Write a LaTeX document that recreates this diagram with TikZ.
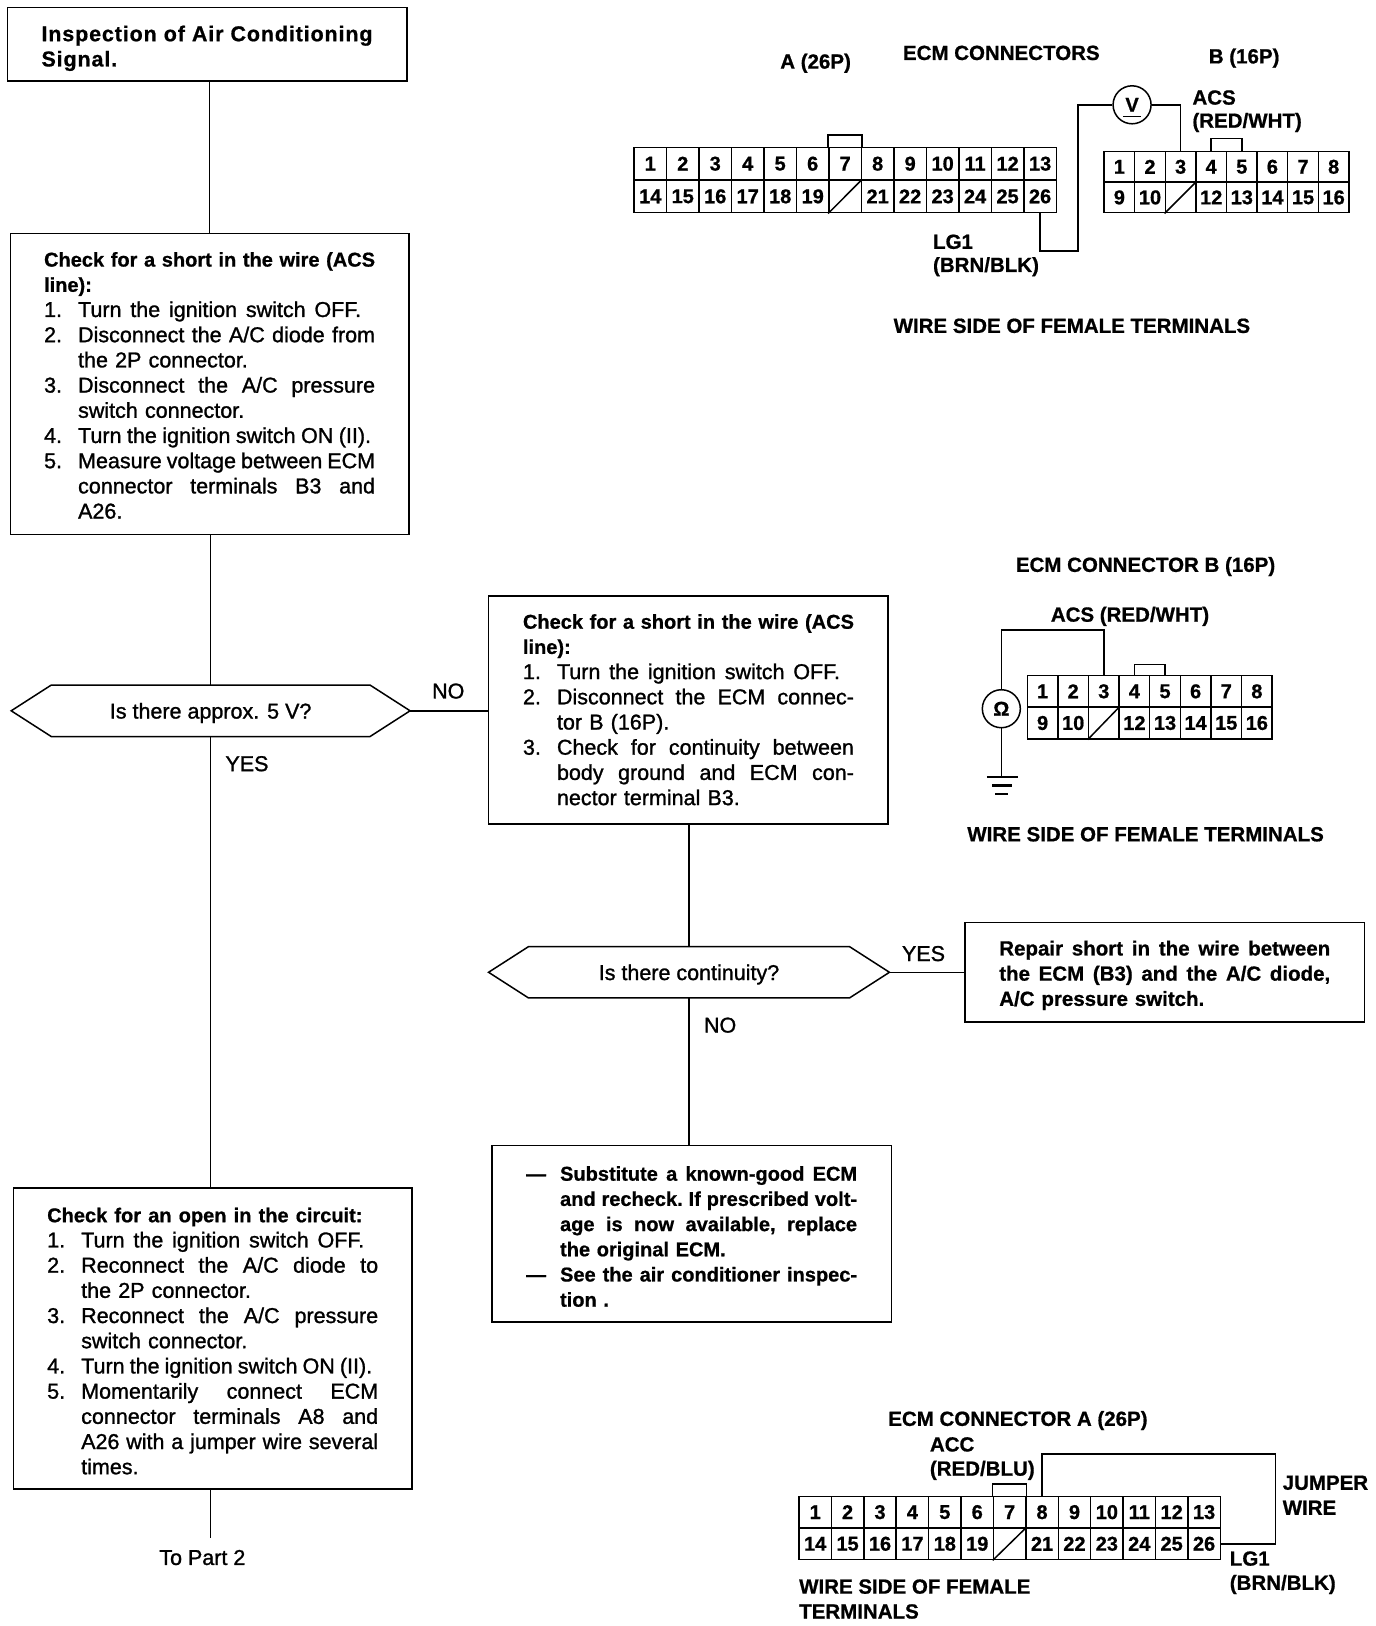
\documentclass[tikz,border=0pt]{standalone}
\usepackage{fontspec}
\setmainfont{Liberation Sans}
\newfontfamily\medfont[FakeBold=1.2]{Liberation Sans}
\newfontfamily\boldfont{Liberation Sans Bold}[FakeBold=0.8]
\newcommand{\bodysize}{\fontsize{21.5}{25.2}\selectfont}
\newcommand{\headfont}{\boldfont\fontsize{20}{25.2}\selectfont}
\newcommand{\strongfont}{\boldfont\fontsize{20}{25.2}\selectfont}
\newcommand{\fitline}[2]{\leavevmode\hbox to #1{\frenchspacing #2\hss}}
\newcommand{\jfit}[2]{\leavevmode\hbox to #1{\frenchspacing\spaceskip=.27em plus 1fil minus .14em\relax #2}}
\newcommand{\jl}[1]{\jfit{331pt}{#1}}
\newcommand{\nl}[2]{\leavevmode\hbox{\makebox[34pt][l]{#1}\fitline{297pt}{#2}}}
\newcommand{\nj}[2]{\leavevmode\hbox{\makebox[34pt][l]{#1}\jfit{297pt}{#2}}}
\newcommand{\nw}[3]{\leavevmode\hbox{\makebox[34pt][l]{#1}\jfit{#2}{#3}}}
\newcommand{\dn}[1]{\leavevmode\rule{0pt}{#1}}
\tikzset{
  flowbox/.style={draw,line width=1.5pt,inner sep=0pt,text width=331pt,align=left,font=\medfont\bodysize,anchor=center},
  hexbox/.style={inner sep=0pt,font=\medfont\bodysize,anchor=center,text height=15.5pt,text depth=0pt},
  wire/.style={line width=1.5pt},
  cellbox/.style={draw,line width=1.5pt,inner sep=0pt,font=\boldfont\fontsize{20}{20}\selectfont},
  lab/.style={inner sep=0pt,font=\boldfont\fontsize{20.5}{24}\selectfont},
  plain/.style={inner sep=0pt,font=\medfont\bodysize},
  meter/.style={draw,circle,line width=1.5pt,inner sep=0pt,minimum size=38pt,font=\boldfont\fontsize{20}{20}\selectfont}
}
\newcommand{\connector}[7]{%
  \pgfmathsetmacro\cw{#4/#6*1.0377}%
  \pgfmathsetmacro\ch{#5/2*1.0377}%
  \pgfmathtruncatemacro\tot{2*#6}%
  \foreach \k in {1,...,\tot}{%
    \pgfmathtruncatemacro\cc{mod(\k-1,#6)}%
    \pgfmathtruncatemacro\rr{int((\k-1)/#6)}%
    \node[cellbox,minimum width=\cw pt,minimum height=\ch pt] (#1\k) at ({#2+(\cc+.5)*#4/#6},{#3+(\rr+.5)*#5/2}) {\ifnum\k=#7\else\k\fi};
  }%
  \draw[wire] (#1#7.south west) -- (#1#7.north east);
}
\begin{document}
\begin{tikzpicture}[x=1.0377pt,y=-1.0377pt]
\useasboundingbox (0,0) rectangle (1326,1567);
% flow boxes
\node[flowbox,minimum width=399.5pt,minimum height=73.7pt] (b1) at (199.5,42.5) {\boldfont\addfontfeature{LetterSpace=4}\dn{24pt}\jl{Inspection of Air Conditioning}\\Signal.};
\node[flowbox,minimum width=398.5pt,minimum height=301pt] (b2) at (202,370) {{\headfont\dn{17.5pt}\jl{Check for a short in the wire (ACS}\\line):}\\
\nw{1.}{283pt}{Turn the ignition switch OFF.}\\
\nj{2.}{Disconnect the A/C diode from}\\
\nl{}{the 2P connector.}\\
\nj{3.}{Disconnect the A/C pressure}\\
\nl{}{switch connector.}\\
\nw{4.}{293pt}{Turn the ignition switch ON (II).}\\
\nj{5.}{Measure voltage between ECM}\\
\nj{}{connector terminals B3 and}\\
\nl{}{A26.}};
\node[hexbox,minimum width=398.5pt,minimum height=51pt] (d1) at (203,685) {Is there approx. 5 V?};
\draw[wire] (d1.west) -- ([xshift=40pt]d1.north west) -- ([xshift=-40pt]d1.north east) -- (d1.east) -- ([xshift=-40pt]d1.south east) -- ([xshift=40pt]d1.south west) -- cycle;
\node[flowbox,minimum width=398.5pt,minimum height=301pt] (b3) at (205,1290) {{\headfont\dn{19.5pt}\fitline{331pt}{Check for an open in the circuit:}}\\
\nw{1.}{283pt}{Turn the ignition switch OFF.}\\
\nj{2.}{Reconnect the A/C diode to}\\
\nl{}{the 2P connector.}\\
\nj{3.}{Reconnect the A/C pressure}\\
\nl{}{switch connector.}\\
\nw{4.}{291pt}{Turn the ignition switch ON (II).}\\
\nj{5.}{Momentarily connect ECM}\\
\nj{}{connector terminals A8 and}\\
\nj{}{A26 with a jumper wire several}\\
\nl{}{times.}};
\node[plain] (topart) at (195,1501) {To Part 2};
\coordinate (endb3) at (203,1482);
\draw[wire] (b1.south -| b2.north) -- (b2.north);
\draw[wire] (b2.south -| d1.north) -- (d1.north);
\draw[wire] (d1.south) -- (d1.south |- b3.north);
\draw[wire] (b3.south -| endb3) -- (endb3);
\node[plain] (yes1) at (238,736) {YES};
\node[plain] (no1) at (432,666) {NO};
\node[flowbox,minimum width=399.5pt,minimum height=228pt] (c1) at (663.5,684) {{\headfont\jl{Check for a short in the wire (ACS}\\line):}\\
\nw{1.}{283pt}{Turn the ignition switch OFF.}\\
\nj{2.}{Disconnect the ECM connec-}\\
\nl{}{tor B (16P).}\\
\nj{3.}{Check for continuity between}\\
\nj{}{body ground and ECM con-}\\
\nl{}{nector terminal B3.}};
\draw[wire] (d1.east) -- (d1.east -| c1.west);
\node[hexbox,minimum width=400.5pt,minimum height=51pt] (d2) at (664,937) {Is there continuity?};
\draw[wire] (d2.west) -- ([xshift=40pt]d2.north west) -- ([xshift=-40pt]d2.north east) -- (d2.east) -- ([xshift=-40pt]d2.south east) -- ([xshift=40pt]d2.south west) -- cycle;
\draw[wire] (c1.south -| d2.north) -- (d2.north);
\node[plain] (yes2) at (890,919) {YES};
\node[plain] (no2) at (694,988) {NO};
\node[flowbox,minimum width=399.5pt,minimum height=99.6pt,font=\boldfont\fontsize{20.5}{25.2}\selectfont] (r1) at (1122.5,937) {\dn{21pt}\jl{Repair short in the wire between}\\\jl{the ECM (B3) and the A/C diode,}\\A/C pressure switch.};
\draw[wire] (d2.east) -- (r1.west);
\node[flowbox,minimum width=399.5pt,minimum height=176.4pt,font=\strongfont] (s1) at (666.5,1189) {\dn{20pt}\nj{—}{Substitute a known-good ECM}\\
\nj{}{and recheck. If prescribed volt-}\\
\nj{}{age is now available, replace}\\
\nl{}{the original ECM.}\\
\nj{—}{See the air conditioner inspec-}\\
\nl{}{tion .}};
\draw[wire] (d2.south) -- (d2.south |- s1.north);
% connectors top
\connector{A}{611}{142}{407}{63}{13}{20}
\connector{B}{1064}{146}{236}{59}{8}{11}
\draw[wire] (A7.north west) -- ++(0,-11) -| (A7.north east);
\draw[wire] (B4.north) -- ++(0,-12) -| (B5.north);
\node[meter] (vm) at (1091,101) {V};
\draw[line width=1.2pt] (1082,112) -- (1100,112);
\coordinate (lgturn) at (1039,242);
\draw[wire] (A26.south) |- (lgturn) |- (vm.west);
\draw[wire] (vm.east) -| (B3.north);
\node[lab] (tA) at (786,61) {A (26P)};
\node[lab] (tE) at (965,51) {ECM CONNECTORS};
\node[lab] (tB) at (1199,56) {B (16P)};
\node[lab,anchor=west] (tacs) at (1149,94) {ACS};
\node[lab,anchor=west] (tacs2) at (1149,118) {(RED/WHT)};
\node[lab,anchor=west] (tlg) at (899,233) {LG1};
\node[lab,anchor=west] (tlg2) at (899,257) {(BRN/BLK)};
\node[lab] (tw1) at (1033,314) {WIRE SIDE OF FEMALE TERMINALS};
% connector B mid
\connector{C}{990}{651}{236}{61}{8}{11}
\draw[wire] (C4.north) -- ++(0,-10) -| (C5.north);
\node[lab] (tb2) at (1104,546) {ECM CONNECTOR B (16P)};
\node[lab] (ta2) at (1089,594) {ACS (RED/WHT)};
\node[meter] (om) at (965,683) {Ω};
\coordinate (omturn) at (965,607);
\coordinate (gnd) at (965,749);
\draw[wire] (C3.north) |- (omturn) -- (om.north);
\draw[wire] (om.south) -- (gnd);
\draw[line width=2pt] (951,749) -- (981,749);
\draw[line width=2.5pt] (956,757) -- (975,757);
\draw[line width=2.5pt] (959,765) -- (971,765);
\node[lab] (tw2) at (1104,804) {WIRE SIDE OF FEMALE TERMINALS};
% connector A bottom
\connector{D}{770}{1442}{406}{61}{13}{20}
\draw[wire] (D7.north west) -- ++(0,-11) -| (D7.north east);
\coordinate (jc) at (1229,1401);
\draw[wire] (D8.north) |- (jc) |- (D26.east);
\node[lab] (t3) at (981,1369) {ECM CONNECTOR A (26P)};
\node[lab,anchor=west] (t4) at (896,1392) {ACC};
\node[lab,anchor=west] (t5) at (896,1417) {(RED/BLU)};
\node[lab,anchor=west] (t6) at (1236,1429) {JUMPER};
\node[lab,anchor=west] (t7) at (1236,1453) {WIRE};
\node[lab,anchor=west] (t8) at (1185,1502) {LG1};
\node[lab,anchor=west] (t9) at (1185,1527) {(BRN/BLK)};
\node[lab,anchor=west] (t10) at (770,1529) {WIRE SIDE OF FEMALE};
\node[lab,anchor=west] (t11) at (770,1553) {TERMINALS};
\end{tikzpicture}
\end{document}
